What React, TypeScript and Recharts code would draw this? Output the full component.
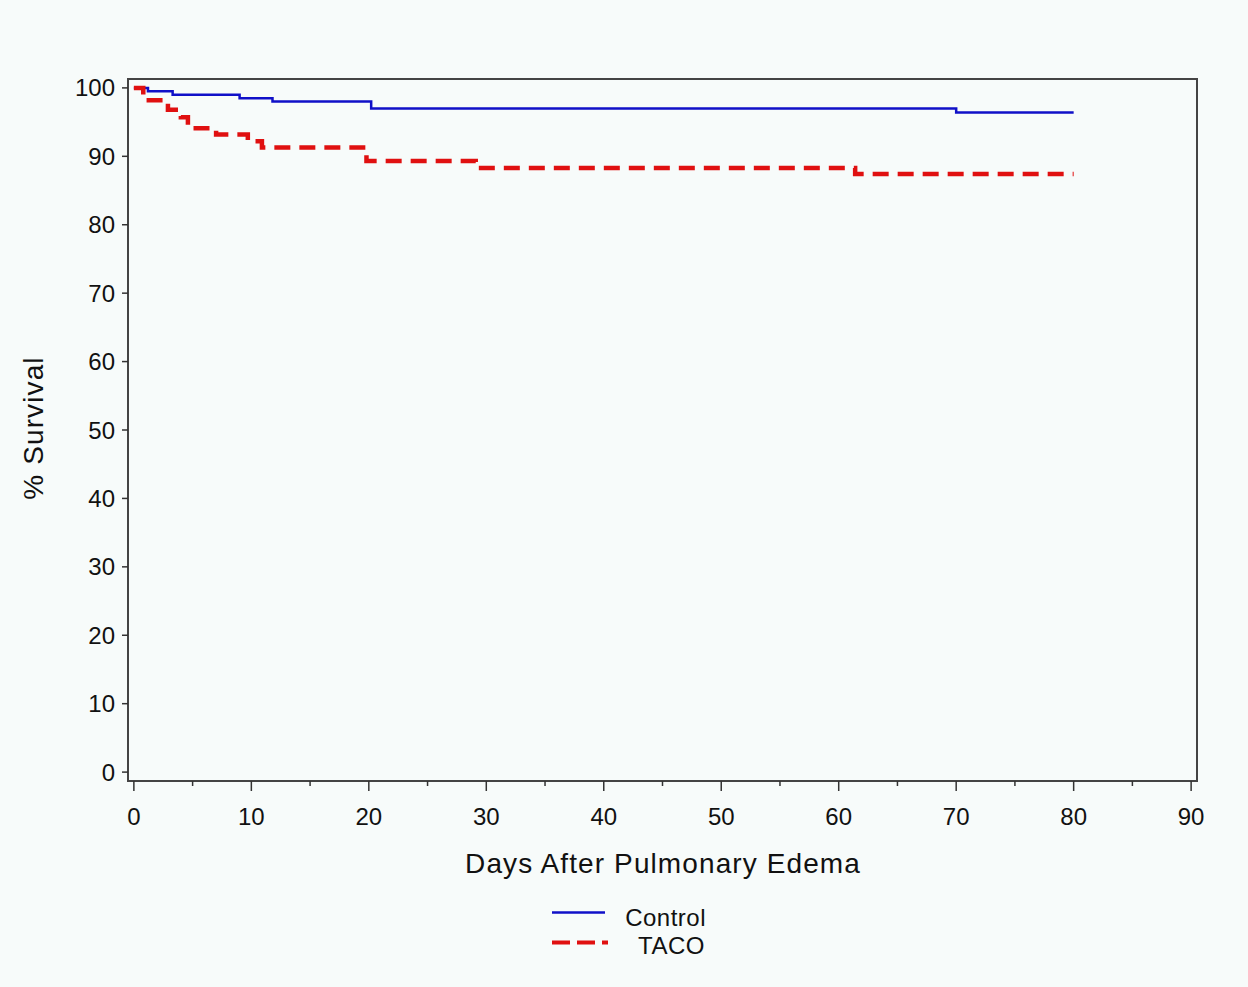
import React from 'react';
import { LineChart, Line, XAxis, YAxis, ReferenceArea, Legend, Label } from 'recharts';

const controlDays = [0, 1.2, 3.3, 9.0, 11.8, 20.2, 70.0, 80];
const controlSurvival = [100, 99.5, 99.0, 98.5, 98.0, 97.0, 96.4, 96.4];
const tacoDays = [0, 0.8, 2.9, 4.0, 4.6, 7.0, 9.7, 10.9, 19.8, 29.1, 61.4, 80];
const tacoSurvival = [100, 98.2, 96.8, 95.7, 94.1, 93.2, 92.2, 91.3, 89.3, 88.3, 87.4, 87.4];
const xTicks = [0, 5, 10, 15, 20, 25, 30, 35, 40, 45, 50, 55, 60, 65, 70, 75, 80, 85, 90];
const yTicks = [0, 10, 20, 30, 40, 50, 60, 70, 80, 90, 100];
const seriesNames = ['Control', 'TACO'];
const xTitle = 'Days After Pulmonary Edema';
const yTitle = '% Survival';

const controlData = controlDays.map((d, i) => ({ day: d, s: controlSurvival[i] }));
const tacoData = tacoDays.map((d, i) => ({ day: d, s: tacoSurvival[i] }));

const FONT = '"Liberation Sans", Arial, sans-serif';
const BG = '#F7FBFA';
const BLUE = '#1010C8';
const RED = '#E01010';

const XTick = (props: any) => {
  const { x, y, payload } = props;
  const major = payload.value % 10 === 0;
  return (
    <g>
      <line x1={x} x2={x} y1={y} y2={y + (major ? 10 : 5)} stroke="#333" strokeWidth={1.5} />
      {major && (
        <text x={x} y={y + 44} textAnchor="middle" fontSize={24} fill="#111" fontFamily={FONT}>
          {payload.value}
        </text>
      )}
    </g>
  );
};

const YTick = (props: any) => {
  const { x, y, payload } = props;
  return (
    <g>
      <line x1={x - 6} x2={x} y1={y} y2={y} stroke="#333" strokeWidth={1.5} />
      <text x={x - 13} y={y + 8.5} textAnchor="end" fontSize={24} fill="#111" fontFamily={FONT}>
        {payload.value}
      </text>
    </g>
  );
};

const LegendContent = () => (
  <svg width={200} height={70}>
    <line x1={12} x2={65} y1={17.5} y2={17.5} stroke={BLUE} strokeWidth={2.5} />
    <line x1={12} x2={68} y1={47.5} y2={47.5} stroke={RED} strokeWidth={4} strokeDasharray="18 7" />
    <text x={166} y={31} textAnchor="end" fontSize={24} fill="#111" fontFamily={FONT} letterSpacing={0.5}>
      {seriesNames[0]}
    </text>
    <text x={165} y={59} textAnchor="end" fontSize={24} fill="#111" fontFamily={FONT} letterSpacing={0.5}>
      {seriesNames[1]}
    </text>
  </svg>
);

export default function App() {
  return (
    <div style={{ position: 'absolute', left: 0, top: 0, width: 1248, height: 987, background: BG }}>
      <LineChart width={1248} height={987} margin={{ top: 79, right: 51, bottom: 146, left: 0 }}>
        <XAxis
          type="number"
          dataKey="day"
          domain={[-0.5, 90.5]}
          ticks={xTicks}
          allowDataOverflow
          height={60}
          axisLine={false}
          tickLine={false}
          tickSize={0}
          tickMargin={0}
          tick={<XTick />}
          interval={0}
        >
          <Label
            content={() => (
              <text x={663} y={873} textAnchor="middle" fontSize={28} fill="#111" fontFamily={FONT} letterSpacing={1.1}>
                {xTitle}
              </text>
            )}
          />
        </XAxis>
        <YAxis
          type="number"
          dataKey="s"
          domain={[-1.3, 101.3]}
          ticks={yTicks}
          allowDataOverflow
          width={128}
          axisLine={false}
          tickLine={false}
          tickSize={0}
          tickMargin={0}
          tick={<YTick />}
          interval={0}
        >
          <Label
            content={() => (
              <text
                x={43}
                y={428}
                textAnchor="middle"
                fontSize={28}
                fill="#111"
                fontFamily={FONT}
                letterSpacing={1.1}
                transform="rotate(-90, 43, 428)"
              >
                {yTitle}
              </text>
            )}
          />
        </YAxis>
        <ReferenceArea
          x1={-0.5}
          x2={90.5}
          y1={-1.3}
          y2={101.3}
          fill="none"
          stroke="#444"
          strokeWidth={2}
          ifOverflow="visible"
        />
        <Line
          data={controlData}
          dataKey="s"
          name={seriesNames[0]}
          type="stepAfter"
          stroke={BLUE}
          strokeWidth={2.5}
          dot={false}
          activeDot={false}
          isAnimationActive={false}
        />
        <Line
          data={tacoData}
          dataKey="s"
          name={seriesNames[1]}
          type="stepAfter"
          stroke={RED}
          strokeWidth={4.5}
          strokeDasharray="16 9"
          dot={false}
          activeDot={false}
          isAnimationActive={false}
        />
        <Legend
          layout="vertical"
          align="center"
          verticalAlign="middle"
          content={<LegendContent />}
          wrapperStyle={{ position: 'absolute', left: 540, top: 895, width: 200, height: 70 }}
        />
      </LineChart>
    </div>
  );
}
